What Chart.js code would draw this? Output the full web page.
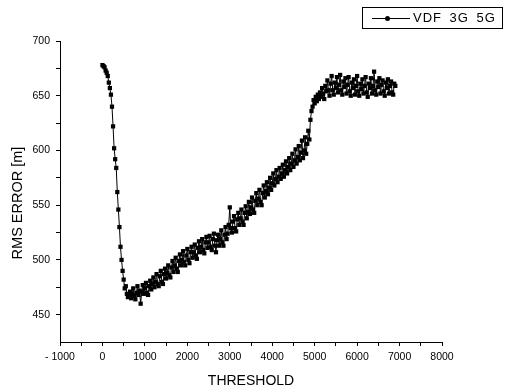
<!DOCTYPE html>
<html>
<head>
<meta charset="utf-8">
<script src="https://cdn.jsdelivr.net/npm/chart.js@4/dist/chart.umd.min.js"></script>
<style>
  html, body { margin: 0; padding: 0; background: #fff; }
  #wrap { position: relative; width: 507px; height: 392px; }
  #legend { position: absolute; left: 362px; top: 7px; width: 139px; height: 20px;
    border: 1px solid #000; font-family: "Liberation Sans", Arial, sans-serif; font-size: 13px;
    color: #000; box-sizing: content-box; }
  #legend .ln { position: absolute; left: 9px; top: 10px; width: 38px; height: 0; border-top: 1px solid #000; }
  #legend .dt { position: absolute; left: 22px; top: 8px; width: 5px; height: 5px; border-radius: 50%; background: #000; }
  #legend .tx { position: absolute; left: 50px; top: 2px; letter-spacing: 1px; word-spacing: 3px; }
</style>
</head>
<body>
<div id="wrap">
  <canvas id="c" width="507" height="392"></canvas>
  <div id="legend"><span class="ln"></span><span class="dt"></span><span class="tx">VDF 3G 5G</span></div>
</div>
<script>
const seriesName = "VDF 3G 5G";
const xTitle = "THRESHOLD";
const yTitle = "RMS ERROR [m]";
const xTicks = [-1000,-500,0,500,1000,1500,2000,2500,3000,3500,4000,4500,5000,5500,6000,6500,7000,7500,8000];
const yTicks = [450,475,500,525,550,575,600,625,650,675,700];
const threshold = [
  0,25,50,75,100,125,150,175,200,225,250,275,300,325,350,375,400,425,450,475,
  500,525,550,575,600,625,650,675,700,725,750,775,800,825,850,875,900,925,950,975,
  1000,1025,1050,1075,1100,1125,1150,1175,1200,1225,1250,1275,1300,1325,1350,1375,1400,1425,1450,1475,
  1500,1525,1550,1575,1600,1625,1650,1675,1700,1725,1750,1775,1800,1825,1850,1875,1900,1925,1950,1975,
  2000,2025,2050,2075,2100,2125,2150,2175,2200,2225,2250,2275,2300,2325,2350,2375,2400,2425,2450,2475,
  2500,2525,2550,2575,2600,2625,2650,2675,2700,2725,2750,2775,2800,2825,2850,2875,2900,2925,2950,2975,
  3000,3025,3050,3075,3100,3125,3150,3175,3200,3225,3250,3275,3300,3325,3350,3375,3400,3425,3450,3475,
  3500,3525,3550,3575,3600,3625,3650,3675,3700,3725,3750,3775,3800,3825,3850,3875,3900,3925,3950,3975,
  4000,4025,4050,4075,4100,4125,4150,4175,4200,4225,4250,4275,4300,4325,4350,4375,4400,4425,4450,4475,
  4500,4525,4550,4575,4600,4625,4650,4675,4700,4725,4750,4775,4800,4825,4850,4875,4900,4925,4950,4975,
  5000,5025,5050,5075,5100,5125,5150,5175,5200,5225,5250,5275,5300,5325,5350,5375,5400,5425,5450,5475,
  5500,5525,5550,5575,5600,5625,5650,5675,5700,5725,5750,5775,5800,5825,5850,5875,5900,5925,5950,5975,
  6000,6025,6050,6075,6100,6125,6150,6175,6200,6225,6250,6275,6300,6325,6350,6375,6400,6425,6450,6475,
  6500,6525,6550,6575,6600,6625,6650,6675,6700,6725,6750,6775,6800,6825,6850,6875,6900
];
const rmsError = [
  678,677,676,673,671,668,662,657,651,640,622,602,592,584,562,546,530,512,500,490,
  482,474,476,469,466,468,471,465,469,474,467,464,470,476,468,472,460,471,477,469,
  474,479,470,468,476,481,473,478,484,475,480,487,478,476,485,490,480,478,487,492,
  483,488,495,486,484,493,499,489,495,502,492,489,499,505,495,500,508,498,495,504,
  510,500,497,507,512,502,507,514,504,501,511,517,507,512,519,509,506,516,521,511,
  516,522,512,509,519,524,513,507,518,523,513,519,527,516,513,523,530,519,524,532,
  548,529,525,535,540,529,526,537,543,532,538,546,535,532,543,549,538,544,553,542,
  548,557,546,543,554,561,550,556,564,553,550,561,568,557,563,571,560,566,575,564,
  570,579,568,574,582,571,576,584,574,579,587,576,582,590,579,585,593,582,588,597,
  585,591,601,588,594,604,591,598,609,593,600,612,597,606,618,610,628,636,640,646,
  643,649,645,651,647,653,649,657,652,647,659,654,664,655,650,661,668,655,651,662,
  657,667,653,660,669,655,651,663,658,666,652,660,667,654,650,662,657,665,651,659,
  668,654,650,661,656,665,652,659,667,653,649,661,657,666,652,659,672,655,651,663,
  658,666,652,660,664,654,650,662,657,665,652,659,663,653,651,661,659
];

const fam = "'Liberation Sans', Arial, sans-serif";
const fontTick = { family: fam, size: 10.5 };

const yTitlePlugin = {
  id: 'yTitle',
  afterDraw(chart) {
    const ctx = chart.ctx;
    ctx.save();
    ctx.translate(18, 203);
    ctx.rotate(-Math.PI / 2);
    ctx.font = "14.5px " + fam;
    ctx.fillStyle = '#000';
    ctx.textAlign = 'center';
    ctx.textBaseline = 'middle';
    ctx.fillText(yTitle, 0, 0);
    ctx.restore();
  }
};

new Chart(document.getElementById('c'), {
  type: 'line',
  data: {
    datasets: [{
      label: seriesName,
      data: threshold.map((x, i) => ({ x: x, y: rmsError[i] })),
      borderColor: '#000',
      backgroundColor: '#000',
      borderWidth: 1,
      pointStyle: 'rect',
      pointRadius: 3,
      pointBorderWidth: 0,
      pointBackgroundColor: '#000',
      tension: 0
    }]
  },
  plugins: [yTitlePlugin],
  options: {
    responsive: false,
    animation: false,
    events: [],
    layout: { padding: { top: 41, right: 65, left: 0, bottom: 0 } },
    plugins: { legend: { display: false }, tooltip: { enabled: false } },
    scales: {
      x: {
        type: 'linear',
        min: -1000, max: 8000,
        afterFit: s => { s.height = 50; },
        afterBuildTicks: s => { s.ticks = xTicks.map(v => ({ value: v })); },
        grid: { display: true, drawOnChartArea: false, tickLength: 4, color: '#000', tickColor: '#000' },
        border: { display: true, color: '#000', width: 1 },
        ticks: {
          color: '#000', font: fontTick, padding: 5, maxRotation: 0, autoSkip: false,
          callback: v => (v % 1000 === 0 ? (v < 0 ? '- ' + Math.abs(v) : String(v)) : '')
        },
        title: { display: true, text: xTitle, color: '#000', font: { family: fam, size: 14 }, padding: { top: 0, bottom: 2 } }
      },
      y: {
        type: 'linear',
        min: 425, max: 700,
        afterFit: s => { s.width = 60; },
        afterBuildTicks: s => { s.ticks = yTicks.map(v => ({ value: v })); },
        grid: { display: true, drawOnChartArea: false, tickLength: 4, color: '#000', tickColor: '#000' },
        border: { display: true, color: '#000', width: 1 },
        ticks: {
          color: '#000', font: fontTick, padding: 6, autoSkip: false,
          callback: v => (v % 50 === 0 ? String(v) : '')
        },
        title: { display: false, text: yTitle }
      }
    }
  }
});
</script>
</body>
</html>
